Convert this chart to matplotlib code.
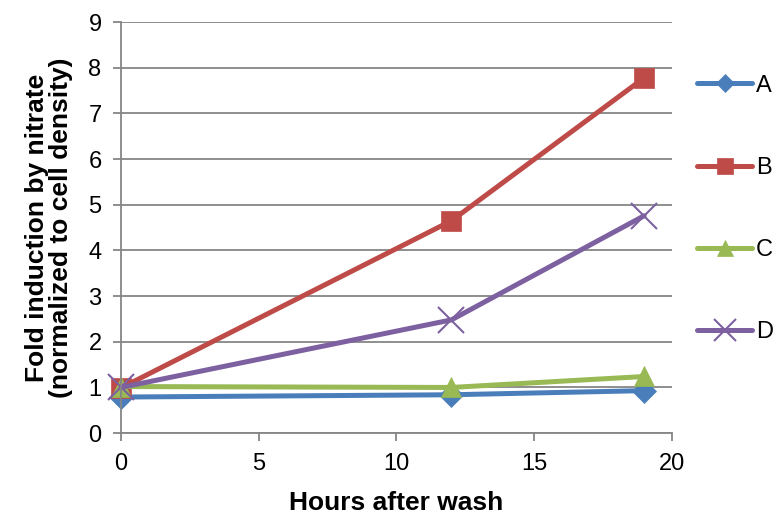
import matplotlib
matplotlib.use("Agg")
from matplotlib import pyplot as plt

plt.rcParams['font.family'] = ['Liberation Sans', 'DejaVu Sans']

# data
hours = [0, 12, 19]
series_names = ['A', 'B', 'C', 'D']
a_vals = [0.79, 0.84, 0.93]
b_vals = [0.99, 4.65, 7.78]
c_vals = [1.02, 1.0, 1.24]
d_vals = [1.0, 2.48, 4.76]

colors = ['#4a7ebb', '#be4b48', '#98b954', '#7d60a0']
markers = ['D', 's', '^', 'x']
msizes = [12, 14, 14, 19]

fig = plt.figure(figsize=(7.81, 5.15), dpi=100)
ax = fig.add_axes([0.155, 0.159, 0.705, 0.798])

for vals, name, col, mk, ms in zip([a_vals, b_vals, c_vals, d_vals], series_names,
                                   colors, markers, msizes):
    ax.plot(hours, vals, color=col, lw=3.6, marker=mk, markersize=ms,
            markeredgewidth=1.5 if mk == 'x' else 0.5, markeredgecolor=col,
            label=name, solid_capstyle='round', clip_on=False)

ax.set_xlim(0, 20)
ax.set_ylim(0, 9)
ax.set_xticks(range(0, 21, 5))
ax.set_yticks(range(0, 10))
ax.grid(axis='y', color='#868686', lw=1.3)
ax.set_axisbelow(True)
for s in ['top', 'right']:
    ax.spines[s].set_visible(False)
for s in ['left', 'bottom']:
    ax.spines[s].set_color('#868686')
    ax.spines[s].set_linewidth(1.3)
ax.tick_params(axis='both', labelsize=17, color='#868686', width=1.3, length=6, pad=8)

ax.set_xlabel('Hours after wash', fontsize=19, fontweight='bold', labelpad=12)
ax.set_ylabel('Fold induction by nitrate\n(normalized to cell density)',
              fontsize=19, fontweight='bold', labelpad=11, linespacing=1.0)

ax.legend(loc='upper left', bbox_to_anchor=(1.028, 0.895), frameon=False,
          fontsize=17, labelspacing=2.55, handlelength=2.37, handletextpad=0.15,
          borderaxespad=0, markerscale=0.8)

fig.savefig('out.png', dpi=100)
